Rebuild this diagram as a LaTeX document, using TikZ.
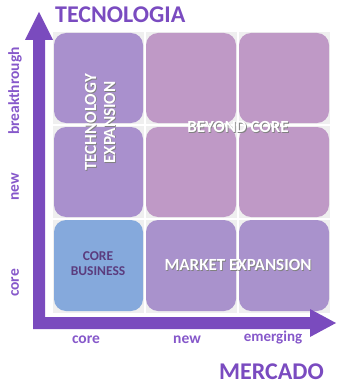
\documentclass[tikz,border=0pt]{standalone}
\usepackage{fontspec}
\setmainfont{Carlito}
\begin{document}
\begin{tikzpicture}[x=1pt,y=-1pt,
  cell/.style={draw=none,rounded corners=12pt},
  axislabel/.style={text=axispurple,font=\bfseries\fontsize{15.5}{16}\selectfont,inner sep=0pt},
  title/.style={text=titlepurple,font=\bfseries\fontsize{24}{26}\selectfont,inner sep=0pt},
  celltext/.style={text=white,font=\bfseries\fontsize{17}{19}\selectfont,inner sep=0pt,align=center},
  shadowtext/.style={text=black!50,font=\bfseries\fontsize{17}{19}\selectfont,inner sep=0pt,align=center}]
\definecolor{titlepurple}{HTML}{7A4BC0}
\definecolor{axispurple}{HTML}{8658CA}
\definecolor{arrowpurple}{HTML}{7A4BBE}
\definecolor{gridgray}{HTML}{EFEFEF}
\definecolor{techcol}{HTML}{A990CD}
\definecolor{beyondcol}{HTML}{BF99C6}
\definecolor{corecol}{HTML}{85A9DC}
\definecolor{marketcol}{HTML}{A992CC}
\definecolor{coretext}{HTML}{5B3C7E}

\useasboundingbox (0,0) rectangle (337,385);

% grid background with white separators
\fill[gridgray] (53,32) rectangle (330,313);
\draw[white,line width=2pt] (144.5,32) -- (144.5,313) (237.5,32) -- (237.5,313)
  (53,125) -- (330,125) (53,218.5) -- (330,218.5);

% cells
\fill[cell,techcol]   (54,33)  rectangle (143,123);
\fill[cell,techcol]   (54,127) rectangle (143,217);
\fill[cell,corecol]   (54,220) rectangle (143,311);
\fill[cell,beyondcol] (146,33)  rectangle (236,123);
\fill[cell,beyondcol] (239,33)  rectangle (329,123);
\fill[cell,beyondcol] (146,127) rectangle (236,217);
\fill[cell,beyondcol] (239,127) rectangle (329,217);
\fill[cell,marketcol] (146,220) rectangle (236,311);
\fill[cell,marketcol] (239,220) rectangle (329,311);

% cell texts, each with a soft dark shadow underneath
\node[shadowtext,rotate=90] (techS) at (100.8,123.3) {TECHNOLOGY\\EXPANSION};
\node[celltext,rotate=90] (tech) at (100,122.5) {TECHNOLOGY\\EXPANSION};
\node[shadowtext] (beyondS) at (238.8,127.8) {BEYOND CORE};
\node[celltext] (beyond) at (238,127) {BEYOND CORE};
\node[shadowtext] (marketS) at (238.8,265.8) {MARKET EXPANSION};
\node[celltext] (market) at (238,265) {MARKET EXPANSION};
\node[text=coretext,font=\bfseries\fontsize{13.5}{15}\selectfont,inner sep=0pt,align=center]
  (core) at (98,264) {CORE\\BUSINESS};

% axes
\fill[arrowpurple] (33,329) -- (33,40) -- (25,40) -- (39,12) -- (53,40) -- (45,40)
  -- (45,317) -- (310,317) -- (310,309) -- (336,323) -- (310,337) -- (310,329) -- cycle;

% titles
\node[title,anchor=west] (tecno) at (55,15) {TECNOLOGIA};
\node[title,anchor=east] (merc) at (324,372) {MERCADO};

% axis labels
\node[axislabel,rotate=90] (ybreak) at (15,91) {breakthrough};
\node[axislabel,rotate=90] (ynew) at (15,187) {new};
\node[axislabel,rotate=90] (ycore) at (15,283) {core};
\node[axislabel] (xcore) at (86,340) {core};
\node[axislabel] (xnew) at (187,340) {new};
\node[axislabel,font=\bfseries\fontsize{15}{16}\selectfont] (xemer) at (273,338) {emerging};
\end{tikzpicture}
\end{document}
